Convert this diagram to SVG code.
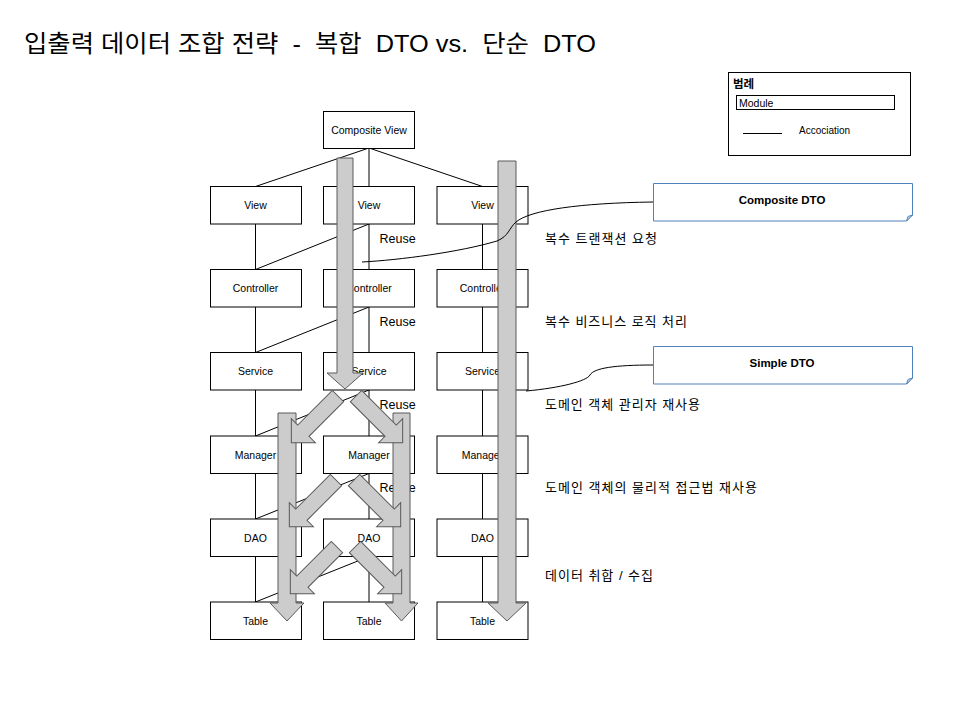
<svg xmlns="http://www.w3.org/2000/svg" width="960" height="720" viewBox="0 0 960 720">
<style>
.box{fill:#fff;stroke:#000;stroke-width:1}
.lbl{font-family:"Liberation Sans",Arial,sans-serif;font-size:10.5px;text-anchor:middle;fill:#000}
.ln{stroke:#000;stroke-width:1;fill:none}
.blk{fill:#cccccc;stroke:#5a5a5a;stroke-width:1}
.reuse{font-family:"Liberation Sans",Arial,sans-serif;font-size:12.5px;fill:#000}
.kr{font-family:"Liberation Sans","Noto Sans CJK KR",sans-serif;font-size:13px;fill:#000}
.note{fill:#fff;stroke:#4f81bd;stroke-width:1}
.notet{font-family:"Liberation Sans",Arial,sans-serif;font-size:11.5px;font-weight:bold;text-anchor:middle;fill:#000}
</style>
<defs>
<path id="darr" d="M0,-8 L49,-8 L49,-17 L66,0 L49,17 L49,8 L0,8 Z"/>
</defs>
<rect width="960" height="720" fill="#fff"/>

<text x="24" y="52" textLength="572" lengthAdjust="spacingAndGlyphs" style="font-family:'Liberation Sans','Noto Sans CJK KR',sans-serif;font-size:24px;fill:#000" xml:space="preserve">입출력 데이터 조합 전략  -  복합  DTO vs.  단순  DTO</text>

<g id="connectors">
<path class="ln" d="M369,148 L255.5,186.5 M369,148 V186.5 M369,148 L482.5,186.5"/>
<path class="ln" d="M255.5,224 V269.5 M255.5,307 V352.5 M255.5,390 V436 M255.5,473.5 V519 M255.5,556.5 V602"/>
<path class="ln" d="M369,224 V269.5 M369,307 V352.5 M369,390 V436 M369,473.5 V519 M369,556.5 V602"/>
<path class="ln" d="M482.5,224 V269.5 M482.5,307 V352.5 M482.5,390 V436 M482.5,473.5 V519 M482.5,556.5 V602"/>
<path class="ln" d="M369,224 L255.5,269.5 M369,307 L255.5,352.5 M369,390 L255.5,436 M369,473.5 L255.5,519 M369,556.5 L255.5,602"/>
</g>

<g id="composite-view"><rect class="box" x="323.5" y="111.5" width="91" height="37"/><text class="lbl" x="369" y="134">Composite View</text></g>

<g id="view-1"><rect class="box" x="210.5" y="186.5" width="91" height="37.5"/><text class="lbl" x="255.5" y="209">View</text></g>
<g id="view-2"><rect class="box" x="323.5" y="186.5" width="91" height="37.5"/><text class="lbl" x="369" y="209">View</text></g>
<g id="view-3"><rect class="box" x="437" y="186.5" width="91" height="37.5"/><text class="lbl" x="482.5" y="209">View</text></g>

<g id="controller-1"><rect class="box" x="210.5" y="269.5" width="91" height="37.5"/><text class="lbl" x="255.5" y="292">Controller</text></g>
<g id="controller-2"><rect class="box" x="323.5" y="269.5" width="91" height="37.5"/><text class="lbl" x="369" y="292">Controller</text></g>
<g id="controller-3"><rect class="box" x="437" y="269.5" width="91" height="37.5"/><text class="lbl" x="482.5" y="292">Controller</text></g>

<g id="service-1"><rect class="box" x="210.5" y="352.5" width="91" height="37.5"/><text class="lbl" x="255.5" y="375">Service</text></g>
<g id="service-2"><rect class="box" x="323.5" y="352.5" width="91" height="37.5"/><text class="lbl" x="369" y="375">Service</text></g>
<g id="service-3"><rect class="box" x="437" y="352.5" width="91" height="37.5"/><text class="lbl" x="482.5" y="375">Service</text></g>

<g id="manager-1"><rect class="box" x="210.5" y="436" width="91" height="37.5"/><text class="lbl" x="255.5" y="458.5">Manager</text></g>
<g id="manager-2"><rect class="box" x="323.5" y="436" width="91" height="37.5"/><text class="lbl" x="369" y="458.5">Manager</text></g>
<g id="manager-3"><rect class="box" x="437" y="436" width="91" height="37.5"/><text class="lbl" x="482.5" y="458.5">Manager</text></g>

<g id="dao-1"><rect class="box" x="210.5" y="519" width="91" height="37.5"/><text class="lbl" x="255.5" y="541.5">DAO</text></g>
<g id="dao-2"><rect class="box" x="323.5" y="519" width="91" height="37.5"/><text class="lbl" x="369" y="541.5">DAO</text></g>
<g id="dao-3"><rect class="box" x="437" y="519" width="91" height="37.5"/><text class="lbl" x="482.5" y="541.5">DAO</text></g>

<g id="table-1"><rect class="box" x="210.5" y="602" width="91" height="37.5"/><text class="lbl" x="255.5" y="624.5">Table</text></g>
<g id="table-2"><rect class="box" x="323.5" y="602" width="91" height="37.5"/><text class="lbl" x="369" y="624.5">Table</text></g>
<g id="table-3"><rect class="box" x="437" y="602" width="91" height="37.5"/><text class="lbl" x="482.5" y="624.5">Table</text></g>

<g id="reuse-labels">
<text class="reuse" x="379.5" y="242.5">Reuse</text>
<text class="reuse" x="379.5" y="325.5">Reuse</text>
<text class="reuse" x="379.5" y="408.5">Reuse</text>
<text class="reuse" x="379.5" y="491.5">Reuse</text>
</g>

<g id="flow-arrows">
<path class="blk" d="M337,158 L353,158 L353,373 L363,373 L345,389 L327,373 L337,373 Z"/>
<path class="blk" d="M498,161 L516,161 L516,603 L526,603 L507,621 L488,603 L498,603 Z"/>
<path class="blk" d="M278,413 L296,413 L296,603 L304,603 L287,621 L270,603 L278,603 Z"/>
<path class="blk" d="M393,413 L410,413 L410,603 L418,603 L401.5,621 L385,603 L393,603 Z"/>
<use href="#darr" class="blk" transform="translate(338,396) rotate(135)"/>
<use href="#darr" class="blk" transform="translate(356,396) rotate(45)"/>
<use href="#darr" class="blk" transform="translate(336,480) rotate(135)"/>
<use href="#darr" class="blk" transform="translate(354,480) rotate(45)"/>
<use href="#darr" class="blk" transform="translate(337,547) rotate(135)"/>
<use href="#darr" class="blk" transform="translate(355,547) rotate(45)"/>
</g>

<g id="layer-labels">
<text class="kr" x="545" y="242.5" textLength="112" lengthAdjust="spacing">복수 트랜잭션 요청</text>
<text class="kr" x="545" y="325.5" textLength="142" lengthAdjust="spacing">복수 비즈니스 로직 처리</text>
<text class="kr" x="545" y="408.5" textLength="155" lengthAdjust="spacing">도메인 객체 관리자 재사용</text>
<text class="kr" x="545" y="491.5" textLength="212" lengthAdjust="spacing">도메인 객체의 물리적 접근법 재사용</text>
<text class="kr" x="545" y="579.5" textLength="108" lengthAdjust="spacing">데이터 취합 / 수집</text>
</g>

<g id="note-connectors">
<path class="ln" d="M653,202 C580,203 530,210 516,222 C509,228 509,236 497,241 C460,252 400,260 362,262"/>
<path class="ln" d="M653,365 C615,365 594,368 590,375 C587,381 560,388 526,391"/>
</g>

<g id="composite-dto">
<path class="note" d="M653.5,183.5 H912.5 V215 L906.5,221 H653.5 Z"/>
<path d="M906.5,221 L908,216.5 L912.5,215 Z" fill="#dce6f2" stroke="#4f81bd" stroke-width="1"/>
<text class="notet" x="782" y="204">Composite DTO</text>
</g>

<g id="simple-dto">
<path class="note" d="M653.5,346.5 H912.5 V378 L906.5,384 H653.5 Z"/>
<path d="M906.5,384 L908,379.5 L912.5,378 Z" fill="#dce6f2" stroke="#4f81bd" stroke-width="1"/>
<text class="notet" x="782" y="367">Simple DTO</text>
</g>

<g id="legend">
<rect x="728.5" y="72.5" width="182" height="83" fill="#fff" stroke="#000" stroke-width="1"/>
<text x="733" y="88" style="font-family:'Liberation Sans','Noto Sans CJK KR',sans-serif;font-size:11.5px;font-weight:bold;fill:#000">범례</text>
<rect x="736.5" y="95.5" width="158" height="14" fill="#fff" stroke="#000" stroke-width="1"/>
<text x="739" y="106.5" style="font-family:'Liberation Sans',Arial,sans-serif;font-size:10.5px;fill:#000">Module</text>
<line x1="743" y1="133.5" x2="782" y2="133.5" stroke="#000" stroke-width="1"/>
<text x="799" y="134" style="font-family:'Liberation Sans',Arial,sans-serif;font-size:10px;fill:#000">Accociation</text>
</g>
</svg>
